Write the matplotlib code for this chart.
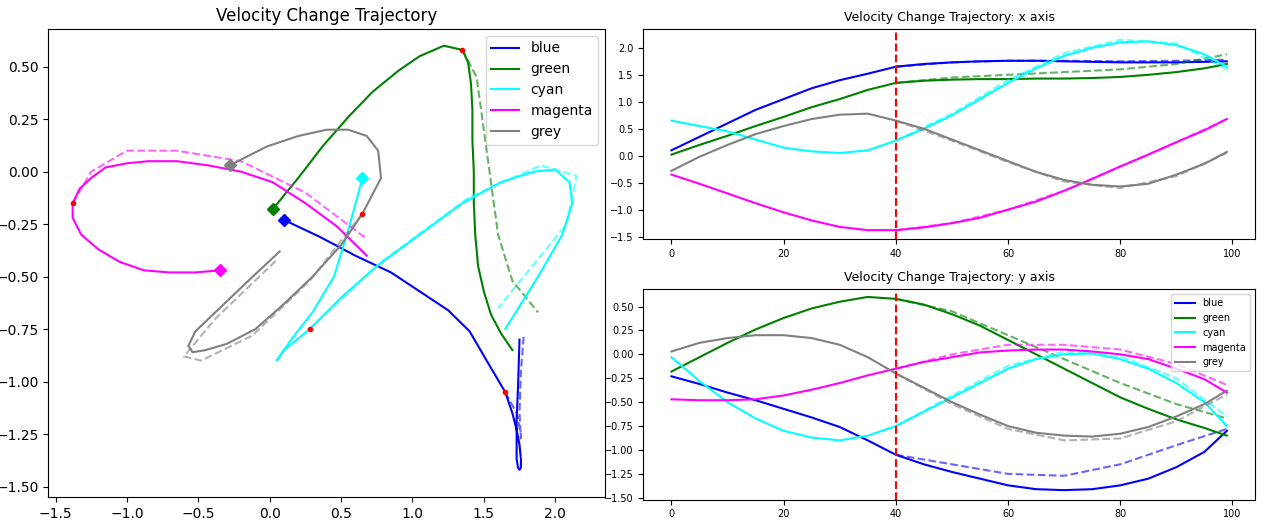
import matplotlib
matplotlib.use("Agg")
import matplotlib.pyplot as plt

names = ["blue", "green", "cyan", "magenta", "grey"]
t = [0, 5, 10, 15, 20, 25, 30, 35, 40, 45, 50, 55, 60, 65, 70, 75, 80, 85, 90, 95, 99]
tp = [40, 50, 60, 70, 80, 90, 99]
x_true = {
    "blue": [0.1, 0.35, 0.6, 0.85, 1.05, 1.25, 1.4, 1.52, 1.65, 1.7, 1.73, 1.75, 1.76, 1.76, 1.75, 1.74, 1.73, 1.73, 1.73, 1.74, 1.75],
    "green": [0.02, 0.2, 0.37, 0.55, 0.72, 0.9, 1.05, 1.22, 1.35, 1.39, 1.41, 1.42, 1.42, 1.43, 1.43, 1.44, 1.46, 1.5, 1.55, 1.62, 1.7],
    "cyan": [0.65, 0.55, 0.45, 0.3, 0.15, 0.08, 0.05, 0.1, 0.28, 0.5, 0.75, 1.05, 1.35, 1.62, 1.85, 2.0, 2.1, 2.12, 2.05, 1.88, 1.65],
    "magenta": [-0.35, -0.52, -0.7, -0.88, -1.05, -1.2, -1.32, -1.38, -1.38, -1.33, -1.25, -1.15, -1.0, -0.85, -0.65, -0.43, -0.2, 0.02, 0.25, 0.47, 0.68],
    "grey": [-0.28, -0.02, 0.2, 0.4, 0.55, 0.68, 0.76, 0.78, 0.65, 0.5, 0.3, 0.1, -0.1, -0.3, -0.45, -0.54, -0.57, -0.52, -0.35, -0.15, 0.07],
}
y_true = {
    "blue": [-0.23, -0.31, -0.4, -0.48, -0.57, -0.66, -0.76, -0.9, -1.05, -1.15, -1.23, -1.3, -1.37, -1.41, -1.42, -1.41, -1.37, -1.3, -1.18, -1.02, -0.8],
    "green": [-0.18, -0.03, 0.12, 0.26, 0.38, 0.48, 0.55, 0.6, 0.58, 0.52, 0.42, 0.3, 0.15, 0.0, -0.15, -0.3, -0.45, -0.57, -0.68, -0.77, -0.85],
    "cyan": [-0.03, -0.28, -0.5, -0.67, -0.8, -0.87, -0.9, -0.85, -0.75, -0.6, -0.45, -0.3, -0.15, -0.05, 0.0, 0.01, -0.05, -0.15, -0.3, -0.5, -0.75],
    "magenta": [-0.47, -0.48, -0.48, -0.47, -0.43, -0.37, -0.3, -0.22, -0.15, -0.08, -0.03, 0.02, 0.04, 0.05, 0.05, 0.03, 0.0, -0.05, -0.15, -0.26, -0.4],
    "grey": [0.03, 0.12, 0.17, 0.2, 0.2, 0.17, 0.1, -0.03, -0.2, -0.35, -0.5, -0.63, -0.75, -0.82, -0.85, -0.86, -0.83, -0.76, -0.65, -0.52, -0.38],
}
x_pred = {
    "blue": [1.65, 1.73, 1.76, 1.76, 1.75, 1.76, 1.78],
    "green": [1.35, 1.45, 1.5, 1.55, 1.6, 1.7, 1.88],
    "cyan": [0.28, 0.78, 1.4, 1.9, 2.15, 2.08, 1.6],
    "magenta": [-1.38, -1.25, -1.0, -0.65, -0.2, 0.25, 0.68],
    "grey": [0.65, 0.28, -0.12, -0.48, -0.6, -0.38, 0.05],
}
y_pred = {
    "blue": [-1.05, -1.15, -1.25, -1.27, -1.15, -0.95, -0.78],
    "green": [0.58, 0.45, 0.2, -0.05, -0.3, -0.52, -0.67],
    "cyan": [-0.75, -0.43, -0.12, 0.03, -0.02, -0.25, -0.65],
    "magenta": [-0.15, 0.0, 0.1, 0.1, 0.05, -0.1, -0.32],
    "grey": [-0.2, -0.52, -0.78, -0.9, -0.88, -0.7, -0.42],
}

fig = plt.figure(figsize=(12.74, 5.26), dpi=100)
axL = fig.add_axes([0.038, 0.055, 0.437, 0.89])
axX = fig.add_axes([0.505, 0.545, 0.48, 0.40])
axY = fig.add_axes([0.505, 0.05, 0.48, 0.40])

for n in names:
    axL.plot(x_true[n], y_true[n], color=n, label=n, lw=1.5)
    axL.plot(x_pred[n], y_pred[n], color=n, ls="--", alpha=0.6, lw=1.5)
    axL.plot(x_true[n][0], y_true[n][0], marker="D", color=n, ms=6)
    axL.plot(x_true[n][8], y_true[n][8], marker="o", color="red", ms=3)
    axX.plot(t, x_true[n], color=n, label=n)
    axX.plot(tp, x_pred[n], color=n, ls="--", alpha=0.6)
    axY.plot(t, y_true[n], color=n, label=n)
    axY.plot(tp, y_pred[n], color=n, ls="--", alpha=0.6)

axL.set_xlim(-1.55, 2.35)
axL.set_ylim(-1.55, 0.68)
axL.set_title("Velocity Change Trajectory")
axL.legend(loc="upper right")
for ax, title in [(axX, "x axis"), (axY, "y axis")]:
    ax.axvline(40, color="red", ls="--")
    ax.set_xlim(-5, 104)
    ax.set_title("Velocity Change Trajectory: " + title, fontsize=9)
    ax.tick_params(labelsize=7)
axX.set_ylim(-1.55, 2.35)
axY.set_ylim(-1.52, 0.68)
axY.legend(loc="upper right", fontsize=7)
fig.savefig("out.png")
